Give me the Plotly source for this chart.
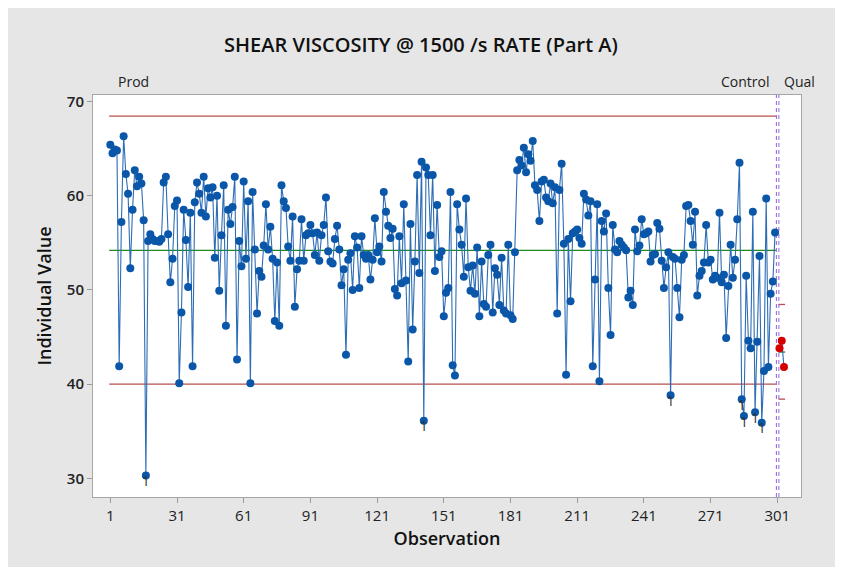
import numpy as np
import plotly.graph_objects as go

# ---------------- data ----------------
prod_values = [
    65.4, 64.5, 64.9, 64.8, 41.9, 57.2, 66.3, 62.3, 60.2, 52.3,
    58.5, 62.7, 61.0, 62.0, 61.3, 57.4, 30.3, 55.2, 55.9, 55.4,
    55.2, 55.2, 55.1, 55.4, 61.4, 62.0, 55.9, 50.8, 53.3, 58.9,
    59.5, 40.1, 47.6, 58.5, 55.3, 50.3, 58.2, 41.9, 59.3, 61.4,
    60.2, 58.2, 62.0, 57.8, 60.8, 59.8, 60.9, 53.4, 60.0, 49.9,
    55.8, 61.1, 46.2, 58.5, 57.0, 58.8, 62.0, 42.6, 55.2, 52.5,
    61.5, 53.3, 59.4, 40.1, 60.4, 54.3, 47.5, 52.0, 51.4, 54.7,
    59.1, 54.3, 56.7, 53.3, 46.7, 52.9, 46.2, 61.1, 59.4, 58.7,
    54.6, 53.1, 57.8, 48.2, 52.2, 53.1, 57.5, 53.1, 55.8, 56.0,
    56.9, 56.0, 53.7, 56.1, 53.1, 55.8, 56.9, 59.8, 54.1, 53.0,
    52.8, 55.4, 56.8, 54.3, 50.5, 52.2, 43.1, 53.2, 53.9, 50.0,
    55.7, 54.5, 50.2, 55.7, 53.7, 53.3, 53.7, 51.1, 53.2, 57.6,
    54.0, 54.6, 53.0, 60.4, 58.3, 56.8, 55.5, 56.5, 50.1, 49.4,
    55.7, 50.7, 59.1, 51.0, 42.4, 57.0, 45.8, 53.0, 62.2, 51.8,
    63.6, 36.1, 63.0, 62.2, 55.8, 62.2, 52.0, 59.0, 53.5, 54.1,
    47.2, 49.7, 50.2, 60.4, 42.0, 40.9, 59.1, 56.4, 54.8, 51.4,
    59.7, 52.4, 49.9, 52.6, 49.6, 54.5, 47.2, 53.0, 48.5, 48.2,
    53.7, 54.8, 47.6, 52.3, 51.6, 48.4, 53.4, 47.8, 47.5, 54.8,
    47.3, 46.9, 54.0, 62.7, 63.8, 63.2, 65.1, 62.5, 64.4, 63.7,
    65.8, 61.1, 60.6, 57.3, 61.5, 61.7, 59.8, 59.4, 61.3, 59.2,
    60.9, 47.5, 60.6, 63.4, 54.9, 41.0, 55.4, 48.8, 56.0, 56.2,
    56.4, 55.5, 54.9, 60.2, 59.6, 57.9, 59.4, 41.9, 51.1, 59.1,
    40.3, 57.3, 56.2, 58.1, 50.2, 45.2, 56.9, 54.3, 54.0, 55.2,
    54.8, 54.5, 54.2, 49.2, 49.9, 48.4, 56.4, 54.1, 54.7, 57.5,
    55.9, 56.0, 56.2, 53.0, 53.7, 53.8, 57.1, 56.5, 53.1, 50.2,
    52.4, 54.0, 38.8, 53.5, 53.3, 50.2, 47.1, 53.2, 53.7, 58.9,
    59.0, 57.3, 54.8, 58.3, 49.4, 51.5, 52.0, 52.9, 56.9, 52.9,
    53.2, 51.1, 51.5, 51.3, 58.2, 50.8, 51.6, 44.9, 50.4, 54.8,
    51.3, 53.2, 57.5, 63.5, 38.4, 36.6, 51.5, 44.6, 43.8, 58.3,
    37.0, 44.5, 53.6, 35.9, 41.4, 59.7, 41.8, 49.6, 50.9, 56.1,
]
qual_obs = [302, 303, 304]
qual_values = [43.8, 44.6, 41.8]

prod_limits = {"UCL": 68.45, "CL": 54.2, "LCL": 40.0}
qual_limits = {"UCL": 48.45, "CL": 43.4, "LCL": 38.4}
prod_range = [0.5, 300.5]
qual_range = [301.5, 304.5]
stage_bounds = [300.6, 301.7]

x_ticks = [1, 31, 61, 91, 121, 151, 181, 211, 241, 271, 301]
y_ticks = [30, 40, 50, 60, 70]

title_text = "SHEAR VISCOSITY @ 1500 /s RATE (Part A)"
stage_labels = [("Prod", 11.3), ("Control", 286.5), ("Qual", 311.0)]

# ---------------- figure ----------------
prod_obs = np.arange(1, len(prod_values) + 1)
pv = np.array(prod_values)

FONT = "Open Sans, Noto Sans, sans-serif"
BLUE = "#0a56a8"
LINEBLUE = "#2d6db5"
RED_LIM = "#b8504f"
GREEN = "#1e8a1e"

fig = go.Figure()

for key, col in [("UCL", RED_LIM), ("LCL", RED_LIM), ("CL", GREEN)]:
    fig.add_trace(go.Scatter(x=prod_range, y=[prod_limits[key]] * 2, mode="lines",
                             line=dict(color=col, width=1.3), hoverinfo="skip",
                             showlegend=False))
for key, col in [("UCL", RED_LIM), ("LCL", RED_LIM), ("CL", GREEN)]:
    fig.add_trace(go.Scatter(x=qual_range, y=[qual_limits[key]] * 2, mode="lines",
                             line=dict(color=col, width=1.3), hoverinfo="skip",
                             showlegend=False))

for b in stage_bounds:
    fig.add_trace(go.Scatter(x=[b, b], y=[28.0, 70.7], mode="lines",
                             line=dict(color="#9a6ee0", width=1.1, dash="4px,3px"),
                             hoverinfo="skip", showlegend=False))

fig.add_trace(go.Scatter(x=prod_obs, y=pv, mode="lines+markers",
                         line=dict(color=LINEBLUE, width=1.1),
                         marker=dict(color=BLUE, size=8),
                         showlegend=False))
fig.add_trace(go.Scatter(x=qual_obs, y=qual_values, mode="lines+markers",
                         line=dict(color=LINEBLUE, width=1.1),
                         marker=dict(color="#d40000", size=8),
                         showlegend=False))

mask = pv < prod_limits["LCL"]
fig.add_trace(go.Scatter(x=prod_obs[mask], y=pv[mask], mode="text",
                         text=["1"] * int(mask.sum()), textposition="bottom center",
                         textfont=dict(family=FONT, size=14, color="#333333"),
                         hoverinfo="skip", showlegend=False))

annotations = []
for name, xpos in stage_labels:
    annotations.append(dict(x=xpos, y=1.0, xref="x", yref="paper", text=name,
                            showarrow=False, yanchor="bottom", yshift=2,
                            font=dict(family=FONT, size=14, color="#222222")))

fig.update_layout(
    width=835, height=559,
    margin=dict(l=85, r=42, t=87, b=70),
    paper_bgcolor="#e6e6e6",
    plot_bgcolor="white",
    font=dict(family=FONT, color="#222222"),
    title=dict(text=title_text, x=0.4946, xanchor="center", y=1 - 37 / 559, yanchor="middle",
               font=dict(family=FONT, size=20, color="#111111", weight=600)),
    annotations=annotations,
)

fig.update_xaxes(range=[-6.78, 311.66], tickvals=x_ticks, ticktext=[str(t) for t in x_ticks],
                 ticks="outside", ticklen=5, tickcolor="#9a9a9a",
                 showgrid=False, zeroline=False, showline=True, mirror=True,
                 linecolor="#a6a6a6", linewidth=1,
                 tickfont=dict(family=FONT, size=15, color="#222222"),
                 title=dict(text="Observation", standoff=8,
                            font=dict(family=FONT, size=18, color="#111111", weight=600)))
fig.update_yaxes(range=[28.01, 70.69], tickvals=y_ticks,
                 ticks="outside", ticklen=5, tickcolor="#9a9a9a",
                 showgrid=False, zeroline=False, showline=True, mirror=True,
                 linecolor="#a6a6a6", linewidth=1,
                 tickfont=dict(family=FONT, size=15, color="#222222", weight=600),
                 title=dict(text="Individual Value", standoff=10,
                            font=dict(family=FONT, size=18, color="#111111", weight=600)))

fig.write_html("out.html", post_script="document.body.style.overflow='hidden';")
